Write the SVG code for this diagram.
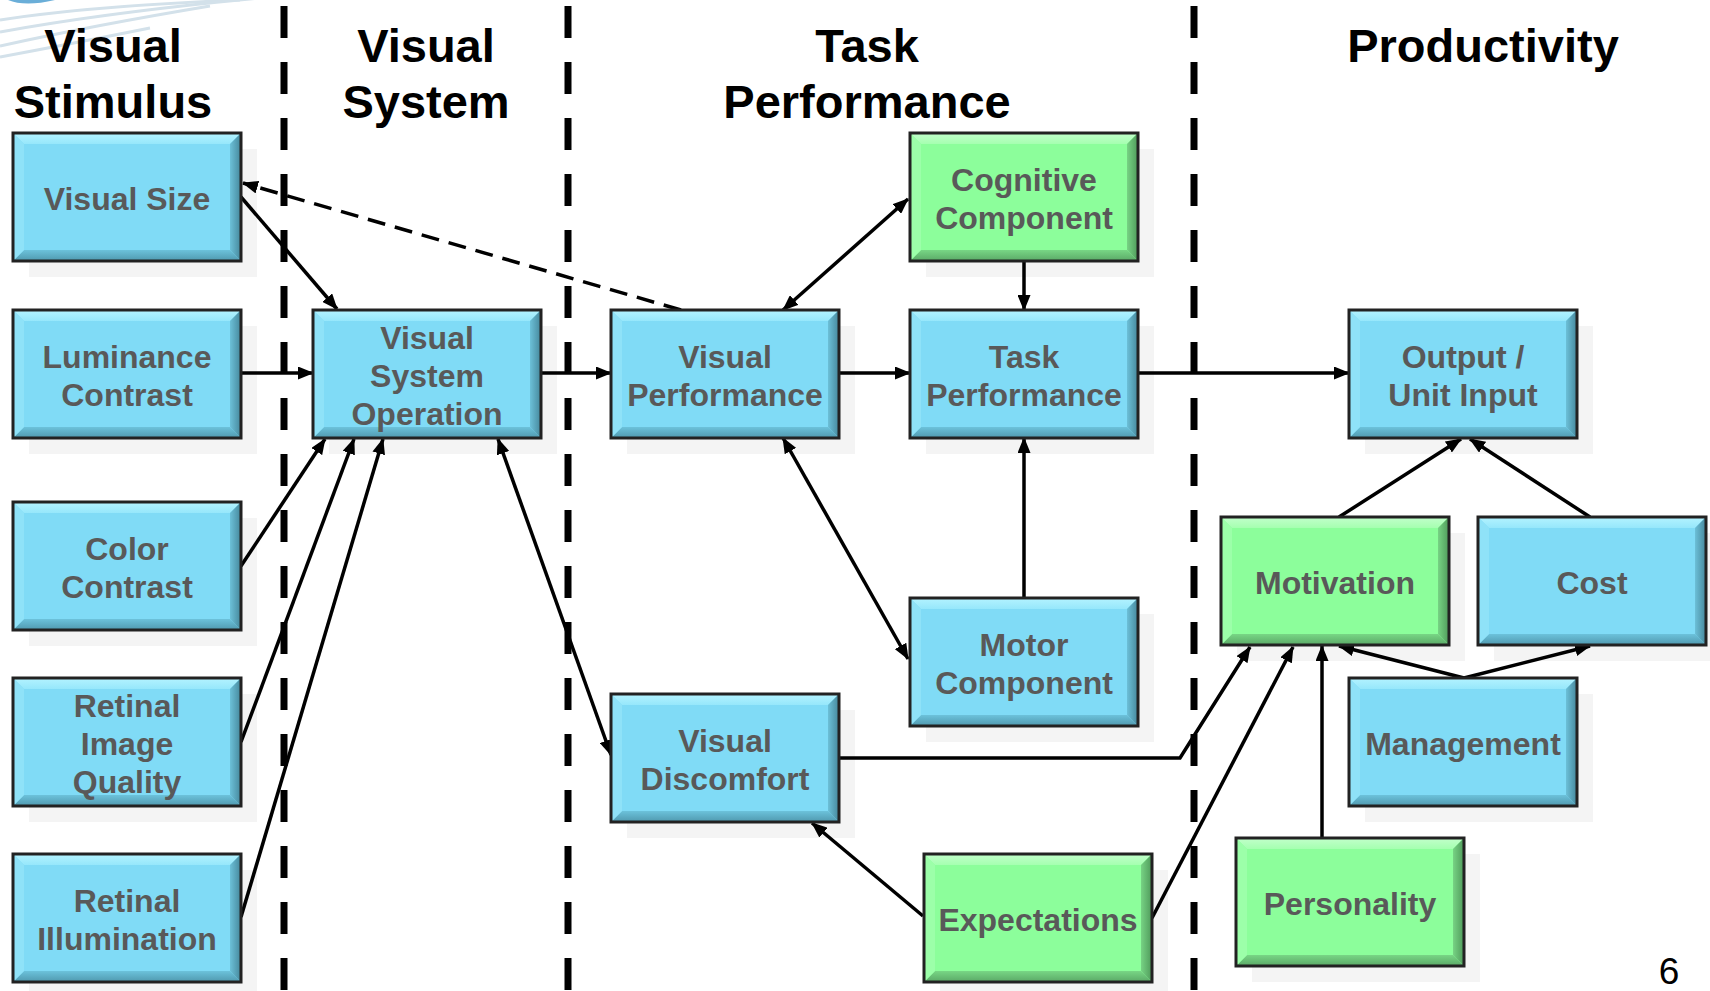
<svg xmlns="http://www.w3.org/2000/svg" xmlns:xlink="http://www.w3.org/1999/xlink" width="1710" height="991" viewBox="0 0 1710 991">
<style>
.hd{font-family:"Liberation Sans",Arial,sans-serif;font-weight:bold;font-size:47px;fill:#000;text-anchor:middle}
.nt{font-family:"Liberation Sans",Arial,sans-serif;font-weight:bold;font-size:32px;fill:#595959;text-anchor:middle}
.pg{font-family:"Liberation Sans",Arial,sans-serif;font-size:37px;fill:#000;text-anchor:middle}
.sep{stroke:#000;stroke-width:7;stroke-dasharray:32 24;fill:none}
.cn{stroke:#000;stroke-width:3.5;fill:none}
.dash{stroke-dasharray:18 10}
.end{marker-end:url(#ah)}
.both{marker-start:url(#ah);marker-end:url(#ah)}
.shd{fill:#f4f4f4}
</style>
<defs>
<marker id="ah" viewBox="0 0 16 13" refX="15" refY="6.5" markerWidth="16" markerHeight="13" markerUnits="userSpaceOnUse" orient="auto-start-reverse">
<path d="M0,0 L16,6.5 L0,13 z" fill="#000"/>
</marker>
<linearGradient id="bTop" x1="0" y1="0" x2="0" y2="1"><stop offset="0" stop-color="#b4f3ff"/><stop offset="1" stop-color="#96e7fb"/></linearGradient>
<linearGradient id="bBot" x1="0" y1="0" x2="0" y2="1"><stop offset="0" stop-color="#6cc2db"/><stop offset="1" stop-color="#4f98ae"/></linearGradient>
<linearGradient id="bRt" x1="0" y1="0" x2="1" y2="0"><stop offset="0" stop-color="#6cc0d8"/><stop offset="1" stop-color="#45879b"/></linearGradient>
<linearGradient id="gTop" x1="0" y1="0" x2="0" y2="1"><stop offset="0" stop-color="#c2ffcb"/><stop offset="1" stop-color="#a5ffb0"/></linearGradient>
<linearGradient id="gBot" x1="0" y1="0" x2="0" y2="1"><stop offset="0" stop-color="#78d685"/><stop offset="1" stop-color="#5aa866"/></linearGradient>
<linearGradient id="gRt" x1="0" y1="0" x2="1" y2="0"><stop offset="0" stop-color="#77d384"/><stop offset="1" stop-color="#4f9a5a"/></linearGradient>
<g id="boxB">
<rect width="228" height="128" fill="#80dbf6"/>
<polygon points="0,0 228,0 217,11 11,11" fill="url(#bTop)"/>
<polygon points="0,128 228,128 217,117 11,117" fill="url(#bBot)"/>
<polygon points="0,0 11,11 11,117 0,128" fill="#8fe2f8"/>
<polygon points="228,0 217,11 217,117 228,128" fill="url(#bRt)"/>
<rect width="228" height="128" fill="none" stroke="#222" stroke-width="3"/>
</g>
<g id="boxG">
<rect width="228" height="128" fill="#8cfe9b"/>
<polygon points="0,0 228,0 217,11 11,11" fill="url(#gTop)"/>
<polygon points="0,128 228,128 217,117 11,117" fill="url(#gBot)"/>
<polygon points="0,0 11,11 11,117 0,128" fill="#9cffa9"/>
<polygon points="228,0 217,11 217,117 228,128" fill="url(#gRt)"/>
<rect width="228" height="128" fill="none" stroke="#222" stroke-width="3"/>
</g>
</defs>
<rect width="1710" height="991" fill="#fff"/>
<g id="decor" fill="none" stroke="#d3e1ea" stroke-width="3">
<path d="M0,20 Q90,6 240,0"/>
<path d="M0,32 Q110,12 260,-2"/>
<path d="M0,46 Q90,26 210,6"/>
<path d="M0,57 Q70,44 150,28"/>
<path d="M8,0 Q25,7 55,0 Z" fill="#6aaed8" stroke="none"/>
</g>
<g id="shadows">
<rect class="shd" x="29" y="149" width="228" height="128"/>
<rect class="shd" x="29" y="326" width="228" height="128"/>
<rect class="shd" x="29" y="518" width="228" height="128"/>
<rect class="shd" x="29" y="694" width="228" height="128"/>
<rect class="shd" x="29" y="870" width="228" height="121"/>
<rect class="shd" x="329" y="326" width="228" height="128"/>
<rect class="shd" x="627" y="326" width="228" height="128"/>
<rect class="shd" x="926" y="149" width="228" height="128"/>
<rect class="shd" x="926" y="326" width="228" height="128"/>
<rect class="shd" x="926" y="614" width="228" height="128"/>
<rect class="shd" x="627" y="710" width="228" height="128"/>
<rect class="shd" x="940" y="870" width="228" height="121"/>
<rect class="shd" x="1365" y="326" width="228" height="128"/>
<rect class="shd" x="1237" y="533" width="228" height="128"/>
<rect class="shd" x="1494" y="533" width="216" height="128"/>
<rect class="shd" x="1365" y="694" width="228" height="128"/>
<rect class="shd" x="1252" y="854" width="228" height="128"/>
</g>
<g id="headers">
<text class="hd" x="113" y="62">Visual</text>
<text class="hd" x="113" y="118">Stimulus</text>
<text class="hd" x="426" y="62">Visual</text>
<text class="hd" x="426" y="118">System</text>
<text class="hd" x="867" y="62">Task</text>
<text class="hd" x="867" y="118">Performance</text>
<text class="hd" x="1483" y="62">Productivity</text>
</g>
<g id="separators">
<line class="sep" x1="284" y1="6" x2="284" y2="991"/>
<line class="sep" x1="568" y1="6" x2="568" y2="991"/>
<line class="sep" x1="1194" y1="6" x2="1194" y2="991"/>
</g>
<g id="connectors">
<path class="cn end" d="M241,197 L337,309"/>
<path class="cn dash end" d="M681,310 L243,183"/>
<path class="cn end" d="M241,373 L313,373"/>
<path class="cn end" d="M539,373 L611,373"/>
<path class="cn end" d="M839,373 L910,373"/>
<path class="cn end" d="M1138,373 L1349,373"/>
<path class="cn both" d="M908,199 L783,310"/>
<path class="cn end" d="M1024,262 L1024,310"/>
<path class="cn end" d="M1024,598 L1024,438"/>
<path class="cn both" d="M783,438 L908,659"/>
<path class="cn end" d="M241,566 L325,439"/>
<path class="cn end" d="M241,742 L354,439"/>
<path class="cn end" d="M241,917 L383,439"/>
<path class="cn both" d="M498,439 L611,755"/>
<path class="cn end" d="M839,758 L1180,758 L1250,647"/>
<path class="cn end" d="M923,916 L812,823"/>
<path class="cn end" d="M1152,918 L1293,647"/>
<path class="cn end" d="M1322,838 L1322,646"/>
<path class="cn end" d="M1464,678 L1339,646"/>
<path class="cn end" d="M1464,678 L1590,646"/>
<path class="cn end" d="M1339,517 L1461,439"/>
<path class="cn end" d="M1590,517 L1470,439"/>
</g>
<g id="n-visual-size"><use xlink:href="#boxB" href="#boxB" x="13" y="133"/><text class="nt" x="127" y="210">Visual Size</text></g>
<g id="n-luminance-contrast"><use xlink:href="#boxB" href="#boxB" x="13" y="310"/><text class="nt" x="127" y="368">Luminance</text><text class="nt" x="127" y="406">Contrast</text></g>
<g id="n-color-contrast"><use xlink:href="#boxB" href="#boxB" x="13" y="502"/><text class="nt" x="127" y="560">Color</text><text class="nt" x="127" y="598">Contrast</text></g>
<g id="n-retinal-image-quality"><use xlink:href="#boxB" href="#boxB" x="13" y="678"/><text class="nt" x="127" y="717">Retinal</text><text class="nt" x="127" y="755">Image</text><text class="nt" x="127" y="793">Quality</text></g>
<g id="n-retinal-illumination"><use xlink:href="#boxB" href="#boxB" x="13" y="854"/><text class="nt" x="127" y="912">Retinal</text><text class="nt" x="127" y="950">Illumination</text></g>
<g id="n-visual-system-operation"><use xlink:href="#boxB" href="#boxB" x="313" y="310"/><text class="nt" x="427" y="349">Visual</text><text class="nt" x="427" y="387">System</text><text class="nt" x="427" y="425">Operation</text></g>
<g id="n-visual-performance"><use xlink:href="#boxB" href="#boxB" x="611" y="310"/><text class="nt" x="725" y="368">Visual</text><text class="nt" x="725" y="406">Performance</text></g>
<g id="n-cognitive-component"><use xlink:href="#boxG" href="#boxG" x="910" y="133"/><text class="nt" x="1024" y="191">Cognitive</text><text class="nt" x="1024" y="229">Component</text></g>
<g id="n-task-performance"><use xlink:href="#boxB" href="#boxB" x="910" y="310"/><text class="nt" x="1024" y="368">Task</text><text class="nt" x="1024" y="406">Performance</text></g>
<g id="n-motor-component"><use xlink:href="#boxB" href="#boxB" x="910" y="598"/><text class="nt" x="1024" y="656">Motor</text><text class="nt" x="1024" y="694">Component</text></g>
<g id="n-visual-discomfort"><use xlink:href="#boxB" href="#boxB" x="611" y="694"/><text class="nt" x="725" y="752">Visual</text><text class="nt" x="725" y="790">Discomfort</text></g>
<g id="n-expectations"><use xlink:href="#boxG" href="#boxG" x="924" y="854"/><text class="nt" x="1038" y="931">Expectations</text></g>
<g id="n-output-unit-input"><use xlink:href="#boxB" href="#boxB" x="1349" y="310"/><text class="nt" x="1463" y="368">Output /</text><text class="nt" x="1463" y="406">Unit Input</text></g>
<g id="n-motivation"><use xlink:href="#boxG" href="#boxG" x="1221" y="517"/><text class="nt" x="1335" y="594">Motivation</text></g>
<g id="n-cost"><use xlink:href="#boxB" href="#boxB" x="1478" y="517"/><text class="nt" x="1592" y="594">Cost</text></g>
<g id="n-management"><use xlink:href="#boxB" href="#boxB" x="1349" y="678"/><text class="nt" x="1463" y="755">Management</text></g>
<g id="n-personality"><use xlink:href="#boxG" href="#boxG" x="1236" y="838"/><text class="nt" x="1350" y="915">Personality</text></g>
<text class="pg" x="1669" y="984">6</text>
</svg>
